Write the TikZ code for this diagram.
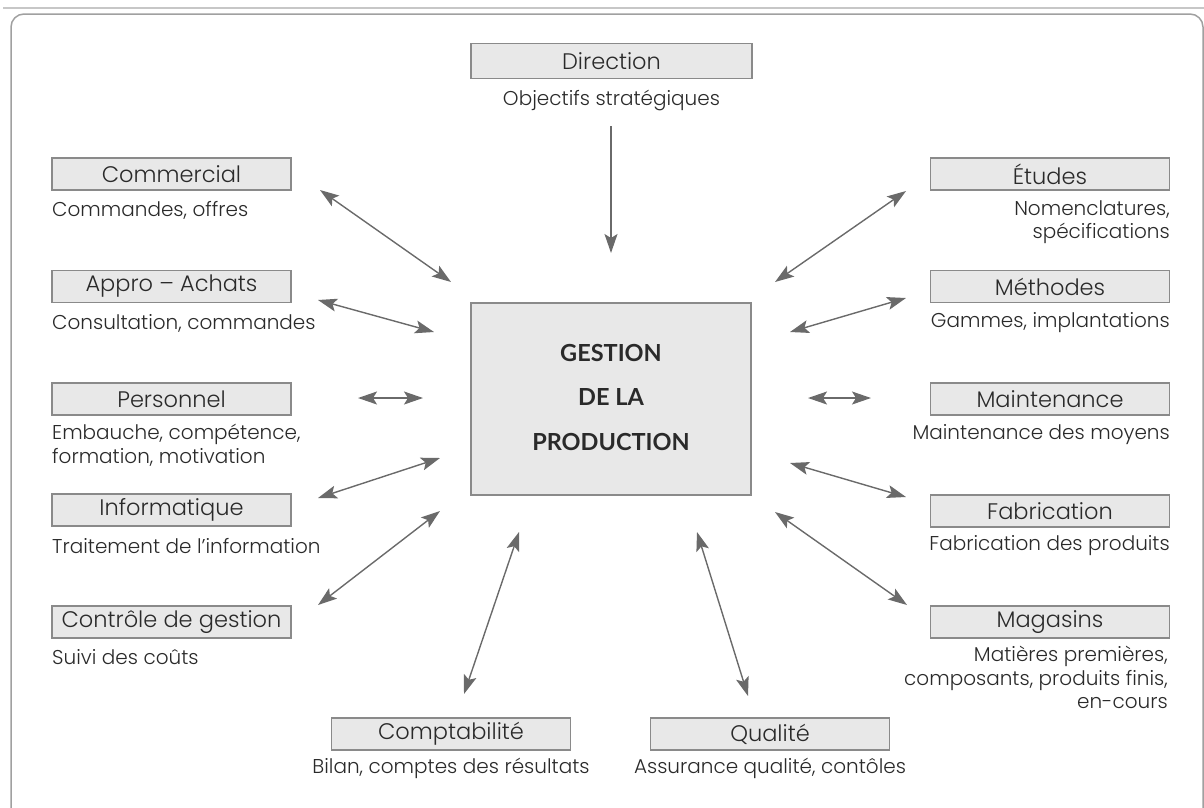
\documentclass[tikz,border=0pt]{standalone}
\usepackage{fontspec}
\setmainfont{Poppins}[UprightFont=* Light]
\newfontfamily\centerfont{Lato}
\usetikzlibrary{arrows.meta}
\definecolor{boxfill}{HTML}{E8E8E8}
\definecolor{boxline}{HTML}{8A8A8A}
\definecolor{arrowgray}{HTML}{6A6A6A}
\definecolor{txt}{HTML}{2A2A2A}
\definecolor{framegray}{HTML}{A0A0A0}
\tikzset{
  unitbox/.style={draw=boxline, fill=boxfill, line width=1.2pt,
    minimum width=239pt, minimum height=32pt, inner sep=0pt,
    font=\fontsize{22.5}{22.5}\selectfont, text=txt},
  subtxt/.style={inner sep=0pt, font=\fontsize{20}{23.5}\selectfont, text=txt},
  centertxt/.style={font=\centerfont\bfseries\fontsize{23.5}{23.5}\selectfont, text=txt},
  link/.style={draw=arrowgray, line width=1.4pt,
    {Stealth[length=19pt,width=13pt,inset=4pt]}-{Stealth[length=19pt,width=13pt,inset=4pt]}},
  onelink/.style={draw=arrowgray, line width=1.4pt,
    -{Stealth[length=19pt,width=13pt,inset=4pt]}},
}
\begin{document}
\begin{tikzpicture}[x=1pt,y=-1pt]
\useasboundingbox (0,0) rectangle (1204,807);
% page frame
\draw[color=black!22, line width=2pt] (3,8) -- (1204,8);
\draw[color=framegray, line width=1.5pt, rounded corners=13pt] (11,830) -- (11,14) -- (1203,14) -- (1203,830);

% central block
\node[draw=boxline, fill=boxfill, line width=1.2pt, minimum width=280pt, minimum height=192pt] (gp) at (611,399) {};
\node[centertxt] (g1) at (611,353) {GESTION};
\node[centertxt] (g2) at (611,397) {DE LA};
\node[centertxt] (g3) at (611,442) {PRODUCTION};

% top
\node[unitbox, minimum width=281pt, minimum height=35pt] (dir) at (611.5,61) {Direction};
\node[subtxt] (dirs) at (611.5,100) {Objectifs strat\'egiques};

% left column
\node[unitbox] (com) at (171.5,174) {Commercial};
\node[subtxt, anchor=west] (coms) at (52,210) {Commandes, offres};
\node[unitbox] (app) at (171.5,286.5) {Appro -- Achats};
\node[subtxt, anchor=west] (apps) at (52,323) {Consultation, commandes};
\node[unitbox] (per) at (171.5,399) {Personnel};
\node[subtxt, anchor=north west, align=left] (pers) at (52,424) {Embauche, comp\'etence,\\formation, motivation};
\node[unitbox] (inf) at (171.5,510) {Informatique};
\node[subtxt, anchor=west] (infs) at (52,546) {Traitement de l'information};
\node[unitbox] (ctl) at (171.5,622) {Contr\^ole de gestion};
\node[subtxt, anchor=west] (ctls) at (52,657) {Suivi des co\^uts};

% right column
\node[unitbox] (etu) at (1050,174) {\'Etudes};
\node[subtxt, anchor=north east, align=right] (etus) at (1170,200) {Nomenclatures,\\sp\'ecifications};
\node[unitbox] (met) at (1050,286.5) {M\'ethodes};
\node[subtxt, anchor=east] (mets) at (1170,323) {Gammes, implantations};
\node[unitbox] (mai) at (1050,399) {Maintenance};
\node[subtxt, anchor=east] (mais) at (1170,435) {Maintenance des moyens};
\node[unitbox] (fab) at (1050,511) {Fabrication};
\node[subtxt, anchor=east] (fabs) at (1170,546) {Fabrication des produits};
\node[unitbox] (mag) at (1050,622) {Magasins};
\node[subtxt, anchor=north east, align=right] (mags) at (1168,646) {Mati\`eres premi\`eres,\\composants, produits finis,\\en-cours};

% bottom
\node[unitbox] (cpt) at (451,734) {Comptabilit\'e};
\node[subtxt] (cpts) at (451,768) {Bilan, comptes des r\'esultats};
\node[unitbox] (qua) at (770,734) {Qualit\'e};
\node[subtxt] (quas) at (770,768) {Assurance qualit\'e, cont\^oles};

% arrow end points
\coordinate (d1) at (611,126);  \coordinate (d2) at (611,253);
\coordinate (c1) at (320,190);  \coordinate (c2) at (451,282);
\coordinate (a1) at (318,300);  \coordinate (a2) at (434,332);
\coordinate (p1) at (358,398);  \coordinate (p2) at (423,398);
\coordinate (i1) at (318,498);  \coordinate (i2) at (440,458);
\coordinate (k1) at (318,605);  \coordinate (k2) at (440,511);
\coordinate (b1) at (464,694);  \coordinate (b2) at (519,532);
\coordinate (q1) at (697,532);  \coordinate (q2) at (748,696);
\coordinate (e1) at (775,282);  \coordinate (e2) at (906,191);
\coordinate (m1) at (790,332);  \coordinate (m2) at (906,298);
\coordinate (n1) at (808,398);  \coordinate (n2) at (871,398);
\coordinate (f1) at (790,463);  \coordinate (f2) at (906,497);
\coordinate (g4) at (775,512);  \coordinate (g5) at (907,605);

\draw[onelink] (d1) -- (d2);
\draw[link] (c1) -- (c2);
\draw[link] (a1) -- (a2);
\draw[link] (p1) -- (p2);
\draw[link] (i1) -- (i2);
\draw[link] (k1) -- (k2);
\draw[link] (b1) -- (b2);
\draw[link] (q1) -- (q2);
\draw[link] (e1) -- (e2);
\draw[link] (m1) -- (m2);
\draw[link] (n1) -- (n2);
\draw[link] (f1) -- (f2);
\draw[link] (g4) -- (g5);
\end{tikzpicture}
\end{document}
